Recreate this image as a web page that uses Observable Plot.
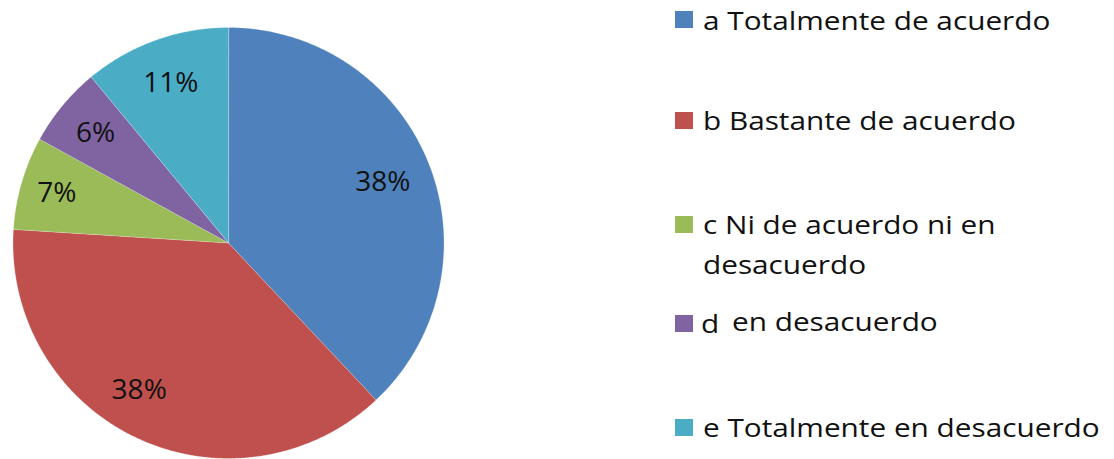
<!DOCTYPE html>
<html>
<head>
<meta charset="utf-8">
<script src="https://cdn.jsdelivr.net/npm/d3@7"></script>
<script src="https://cdn.jsdelivr.net/npm/@observablehq/plot@0.6"></script>
<style>
  html, body { margin: 0; padding: 0; background: #fff; overflow: hidden; }
  #wrap { position: relative; width: 1114px; height: 459px; }
  #chart { position: absolute; left: 0; top: 0; }
  .leg-sq { position: absolute; width: 18px; height: 17px; }
  .leg-tx { position: absolute; font-family: "Open Sans", sans-serif; font-size: 25px; line-height: 25px;
            color: #111; white-space: nowrap; transform: scaleX(1.19); transform-origin: 0 0; }
</style>
</head>
<body>
<div id="wrap"><div id="chart"></div><div id="legend"></div></div>
<script>
// ---- data ----
const categories = ["a", "b", "c", "d", "e"];
const legendLines = [
  ["a Totalmente de acuerdo"],
  ["b Bastante de acuerdo"],
  ["c Ni de acuerdo ni en", "desacuerdo"],
  ["d", "en desacuerdo"],
  ["e Totalmente en desacuerdo"]
];
const values = [38, 38, 7, 6, 11];
const valueLabels = ["38%", "38%", "7%", "6%", "11%"];
const colors = ["#4F81BD", "#C0504D", "#9BBB59", "#8064A2", "#4BACC6"];

// ---- layout: label placement along slice bisector (fraction of radius, angle tweak in degrees) ----
const labelRadius = [0.77, 0.8, 0.83, 0.8, 0.79];
const labelAngleShift = [0, 6, 0, 0, 0];

// build wedge geometry from the values (clockwise from 12 o'clock)
const total = d3.sum(values);
let acc = 0;
const slices = values.map((v, i) => {
  const a0 = acc / total * 2 * Math.PI;
  acc += v;
  const a1 = acc / total * 2 * Math.PI;
  const n = Math.max(2, Math.ceil((a1 - a0) / 0.01));
  const ring = [[0, 0]];
  for (let k = 0; k <= n; k++) {
    const t = a0 + (a1 - a0) * k / n;
    ring.push([Math.sin(t), Math.cos(t)]);
  }
  ring.push([0, 0]);
  const mid = (a0 + a1) / 2 + labelAngleShift[i] * Math.PI / 180;
  return {
    type: "Feature",
    properties: {cat: categories[i], label: valueLabels[i],
      lx: Math.sin(mid) * labelRadius[i], ly: Math.cos(mid) * labelRadius[i]},
    geometry: {type: "Polygon", coordinates: [ring]}
  };
});

const circleRing = d3.range(0, 361, 2).map(a => [Math.sin(a * Math.PI / 180), Math.cos(a * Math.PI / 180)]);
const outline = {type: "Polygon", coordinates: [circleRing]};

const chart = Plot.plot({
  width: 1114,
  height: 459,
  marginLeft: 11,
  marginRight: 669,
  marginTop: 27,
  marginBottom: 1,
  projection: {type: "reflect-y", domain: outline},
  color: {domain: categories, range: colors},
  marks: [
    Plot.geo(slices, {fill: d => d.properties.cat, stroke: "#ffffff", strokeWidth: 0.4, strokeOpacity: 0.6}),
    Plot.text(slices, {
      x: d => d.properties.lx, y: d => d.properties.ly, text: d => d.properties.label,
      fontSize: 28, fill: "#111", fontFamily: "Open Sans, sans-serif"
    })
  ]
});
document.getElementById("chart").appendChild(chart);

// ---- legend ----
const legendRows = [
  {sq: 11,  lines: [{top: 7.5, left: 703}]},
  {sq: 112, lines: [{top: 108, left: 703}]},
  {sq: 216, lines: [{top: 211.5, left: 703}, {top: 251.5, left: 703}]},
  {sq: 315, lines: [{top: 311, left: 701}, {top: 308.5, left: 732}]},
  {sq: 419, lines: [{top: 415, left: 703}]}
];
const legend = document.getElementById("legend");
legendRows.forEach((row, i) => {
  const sq = document.createElement("div");
  sq.className = "leg-sq";
  sq.style.left = "675px";
  sq.style.top = row.sq + "px";
  sq.style.background = colors[i];
  legend.appendChild(sq);
  row.lines.forEach((ln, j) => {
    const t = document.createElement("div");
    t.className = "leg-tx";
    t.style.left = ln.left + "px";
    t.style.top = ln.top + "px";
    t.textContent = legendLines[i][j];
    legend.appendChild(t);
  });
});
</script>
</body>
</html>
